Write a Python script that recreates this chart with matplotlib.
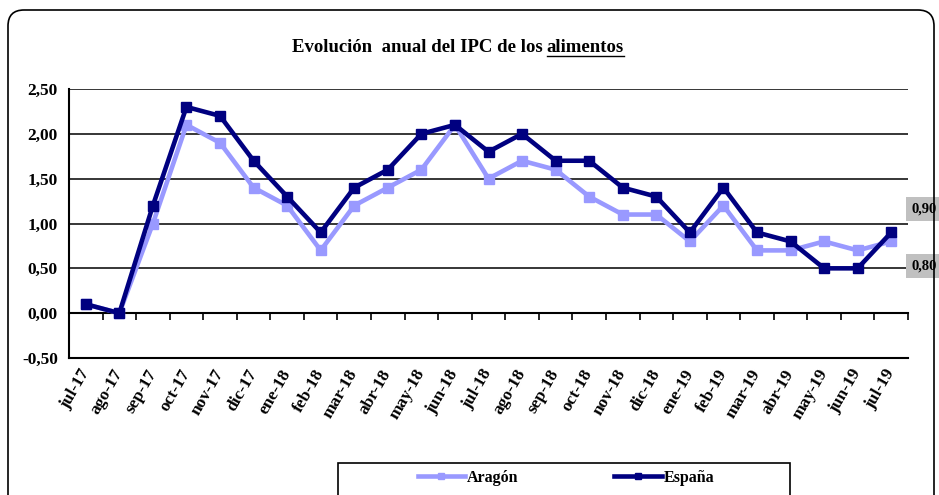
import matplotlib
matplotlib.use("Agg")
import matplotlib.pyplot as plt
from matplotlib.patches import FancyBboxPatch, Rectangle
from matplotlib.lines import Line2D
from matplotlib.transforms import blended_transform_factory

months = ["jul-17", "ago-17", "sep-17", "oct-17", "nov-17", "dic-17", "ene-18",
          "feb-18", "mar-18", "abr-18", "may-18", "jun-18", "jul-18", "ago-18",
          "sep-18", "oct-18", "nov-18", "dic-18", "ene-19", "feb-19", "mar-19",
          "abr-19", "may-19", "jun-19", "jul-19"]
aragon = [0.1, 0.0, 1.0, 2.1, 1.9, 1.4, 1.2, 0.7, 1.2, 1.4, 1.6, 2.1, 1.5, 1.7,
          1.6, 1.3, 1.1, 1.1, 0.8, 1.2, 0.7, 0.7, 0.8, 0.7, 0.8]
espana = [0.1, 0.0, 1.2, 2.3, 2.2, 1.7, 1.3, 0.9, 1.4, 1.6, 2.0, 2.1, 1.8, 2.0,
          1.7, 1.7, 1.4, 1.3, 0.9, 1.4, 0.9, 0.8, 0.5, 0.5, 0.9]
yticks = [-0.5, 0.0, 0.5, 1.0, 1.5, 2.0, 2.5]

c_ara = "#9999ff"
c_esp = "#000080"
serif = "Liberation Serif"

W, H = 939, 495
fig = plt.figure(figsize=(W / 100, H / 100), dpi=100)

# outer rounded frame (pixel coords)
frame = FancyBboxPatch((8, -20), 926, 505,
                       boxstyle="round,pad=0,rounding_size=16",
                       transform=None, fill=False, edgecolor="black", lw=1.2)
fig.patches.append(frame)

ax = fig.add_axes([69 / W, 1 - 358 / H, (908 - 69) / W, (358 - 89) / H])
x = list(range(len(months)))

ax.plot(x, aragon, color=c_ara, lw=3.3, marker="s", ms=7.5, label="Aragón", zorder=3)
ax.plot(x, espana, color=c_esp, lw=3.3, marker="s", ms=7.5, label="España", zorder=4)

ax.set_xlim(-0.5, len(months) - 0.5)
ax.set_ylim(-0.5, 2.5)
ax.set_yticks(yticks)
ax.set_yticklabels([f"{v:.2f}".replace(".", ",") for v in yticks])
for v in yticks[1:]:
    ax.axhline(v, color="black", lw=1.1, zorder=1)

ax.set_xticks(x)
ax.set_xticklabels(months, rotation=60, ha="right", va="center", rotation_mode="anchor")
ax.tick_params(axis="x", length=0, pad=9)
ax.tick_params(axis="y", length=0, pad=8)
for lab in ax.get_xticklabels() + ax.get_yticklabels():
    lab.set_fontfamily(serif)
    lab.set_fontweight("bold")
    lab.set_fontsize(12.5)

for s in ["top", "right"]:
    ax.spines[s].set_visible(False)
for s in ["left", "bottom"]:
    ax.spines[s].set_linewidth(1.5)

# category axis crossing at zero with ticks between categories
sec = ax.secondary_xaxis(1 / 6)
sec.set_alignment("bottom")
sec.set_xticks([i + 0.5 for i in x])
sec.set_xticklabels([])
sec.tick_params(axis="x", direction="out", length=5, width=1.2)
sec.spines["bottom"].set_linewidth(1.5)

# value labels at right
tr = blended_transform_factory(ax.transAxes, ax.transData)
for yv, txt in [(1.16, "0,90"), (0.53, "0,80")]:
    ax.text(1.004, yv, txt, transform=tr, clip_on=False, fontfamily=serif,
            fontweight="bold", fontsize=10.5, va="center", ha="left",
            bbox=dict(facecolor="#c0c0c0", edgecolor="none", pad=4))

# title with underlined word
fig.canvas.draw()
r = fig.canvas.get_renderer()
ty = 1 - 47 / H
t1 = fig.text(0, ty, "Evolución  anual del IPC de los", fontfamily=serif,
              fontweight="bold", fontsize=13.5, va="center", ha="left")
t2 = fig.text(0, ty, "alimentos", fontfamily=serif, fontweight="bold",
              fontsize=13.5, va="center", ha="left")
w1 = t1.get_window_extent(r).width
w2 = t2.get_window_extent(r).width
gap = 4
x0 = 458 - (w1 + gap + w2) / 2
t1.set_x(x0 / W)
t2.set_x((x0 + w1 + gap) / W)
bb = t2.get_window_extent(r)
fig.add_artist(Line2D([bb.x0 / W, bb.x1 / W], [(bb.y0 - 0.5) / H] * 2,
                      color="black", lw=1.0, transform=fig.transFigure))

# legend box
fig.patches.append(Rectangle((338, -10), 452, 42, transform=None, fill=False,
                             edgecolor="black", lw=1.2))
leg = fig.legend(loc="center", bbox_to_anchor=(566 / W, 17 / H), ncol=2,
                 frameon=False, handlelength=3.0, columnspacing=6,
                 handletextpad=0.1, prop=dict(family=serif, weight="bold", size=11.5))
for h in leg.legend_handles:
    h.set_markersize(5)

fig.savefig("out.png", dpi=100)
